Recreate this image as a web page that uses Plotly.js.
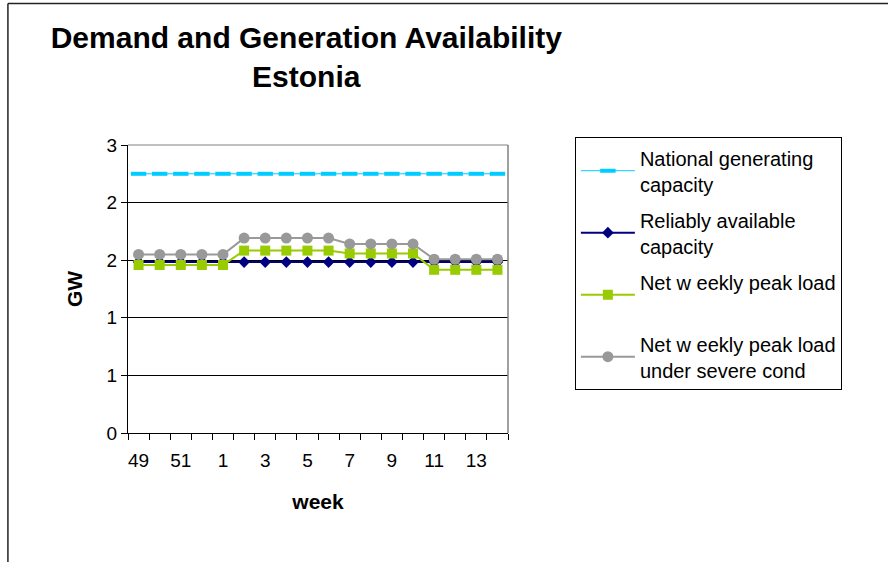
<!DOCTYPE html>
<html>
<head>
<meta charset="utf-8">
<script src="https://cdn.plot.ly/plotly-3.0.1.min.js"></script>
<style>
  html, body { margin: 0; padding: 0; background: #fff; }
  #chart { width: 893px; height: 562px; }
</style>
</head>
<body>
<div id="chart"></div>
<script>
// ---- data ----
const weeks = ['49','50','51','52','1','2','3','4','5','6','7','8','9','10','11','12','13','14'];
const weekLabels = ['49','','51','','1','','3','','5','','7','','9','','11','','13',''];
const nationalCapacity = [2.70,2.70,2.70,2.70,2.70,2.70,2.70,2.70,2.70,2.70,2.70,2.70,2.70,2.70,2.70,2.70,2.70,2.70];
const reliableCapacity = [1.78,1.78,1.78,1.78,1.78,1.78,1.78,1.78,1.78,1.78,1.78,1.78,1.78,1.78,1.78,1.78,1.78,1.78];
const netPeakLoad      = [1.75,1.75,1.75,1.75,1.75,1.90,1.90,1.90,1.90,1.90,1.87,1.87,1.87,1.87,1.70,1.70,1.70,1.70];
const severePeakLoad   = [1.86,1.86,1.86,1.86,1.86,2.03,2.03,2.03,2.03,2.03,1.97,1.97,1.97,1.97,1.81,1.81,1.81,1.81];
const seriesNames = [
  'National generating<br>capacity',
  'Reliably available<br>capacity',
  'Net w eekly peak load<br>&nbsp;',
  'Net w eekly peak load<br>under severe cond'
];
const yTicks = [0, 0.6, 1.2, 1.8, 2.4, 3.0];

const FONT = 'Arial, "Liberation Sans", sans-serif';

const traces = [
  {
    x: weeks, y: nationalCapacity, name: seriesNames[0], legendgroup: 'g1', type: 'scatter', mode: 'lines+markers',
    line: {color: '#00CCFF', width: 1},
    marker: {symbol: 'line-ew', size: 11, color: '#00CCFF', line: {color: '#00CCFF', width: 4}}
  },
  {
    x: weeks, y: reliableCapacity, name: seriesNames[1], legendgroup: 'g2', type: 'scatter', mode: 'lines+markers',
    line: {color: '#000080', width: 2},
    marker: {symbol: 'diamond', size: 9, color: '#000080'}
  },
  {
    x: weeks, y: netPeakLoad, name: seriesNames[2], legendgroup: 'g3', type: 'scatter', mode: 'lines+markers',
    line: {color: '#99CC00', width: 2},
    marker: {symbol: 'square', size: 10, color: '#99CC00'}
  },
  {
    x: weeks, y: severePeakLoad, name: seriesNames[3], legendgroup: 'g4', type: 'scatter', mode: 'lines+markers',
    line: {color: '#999999', width: 2},
    marker: {symbol: 'circle', size: 11, color: '#999999'}
  }
];

const layout = {
  width: 893, height: 562,
  margin: {l: 128, r: 385, t: 145, b: 129, pad: 0},
  paper_bgcolor: '#fff', plot_bgcolor: '#fff',
  font: {family: FONT, color: '#000', size: 19},
  showlegend: true,
  title: {
    text: 'Demand and Generation Availability<br>Estonia',
    font: {family: FONT, size: 30, weight: 'bold', color: '#000'},
    xref: 'container', x: 0.343, xanchor: 'center',
    yref: 'container', y: 0.915, yanchor: 'top'
  },
  xaxis: {
    type: 'category', categoryorder: 'array', categoryarray: weeks,
    range: [-0.5, 17.5],
    tickmode: 'array', tickvals: weeks, ticktext: weekLabels, tickangle: 0,
    tickson: 'boundaries', ticks: 'outside', ticklen: 6, tickcolor: '#000', tickwidth: 1,
    ticklabelstandoff: 10,
    showgrid: false, zeroline: false,
    showline: true, linecolor: '#000', linewidth: 1,
    tickfont: {family: FONT, size: 19, color: '#000'},
    title: {text: 'week', font: {family: FONT, size: 21, weight: 'bold', color: '#000'}, standoff: 24}
  },
  yaxis: {
    range: [0, 3], tickmode: 'array', tickvals: yTicks, tickformat: '.0f',
    ticks: 'outside', ticklen: 6, tickcolor: '#000', tickwidth: 1,
    showgrid: true, gridcolor: '#000', gridwidth: 1, zeroline: false,
    showline: true, linecolor: '#000', linewidth: 1,
    tickfont: {family: FONT, size: 19, color: '#000'},
    title: {text: 'GW', font: {family: FONT, size: 21, weight: 'bold', color: '#000'}, standoff: 18}
  },
  legend: {
    x: 1.176, xanchor: 'left', y: 1.027, yanchor: 'top',
    bordercolor: '#000', borderwidth: 1, bgcolor: '#fff',
    font: {family: FONT, size: 20, color: '#000'},
    itemwidth: 54,
    tracegroupgap: 7
  },
  shapes: [
    {type: 'line', xref: 'paper', yref: 'paper', x0: 0, x1: 1, y0: 1, y1: 1, line: {color: '#808080', width: 1}, layer: 'above'},
    {type: 'line', xref: 'paper', yref: 'paper', x0: 1, x1: 1, y0: 0, y1: 1, line: {color: '#808080', width: 1.5}, layer: 'above'},
    {type: 'line', xref: 'paper', yref: 'paper', x0: -0.316, x1: 2, y0: 1.491, y1: 1.491, line: {color: '#222', width: 1.5}, layer: 'above'},
    {type: 'line', xref: 'paper', yref: 'paper', x0: -0.316, x1: -0.316, y0: -1, y1: 1.491, line: {color: '#222', width: 1.5}, layer: 'above'}
  ]
};

Plotly.newPlot('chart', traces, layout, {displayModeBar: false, staticPlot: true});
</script>
</body>
</html>
